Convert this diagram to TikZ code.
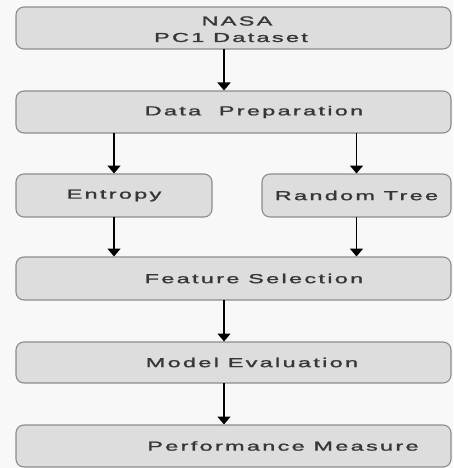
\documentclass[tikz,border=0pt]{standalone}
\usepackage{fontspec}
\usetikzlibrary{arrows.meta}
\newfontfamily\labfont[LetterSpace=10,FakeBold=1.2]{Liberation Sans}
\definecolor{bgc}{RGB}{248,248,248}
\definecolor{boxfill}{RGB}{221,221,221}
\definecolor{boxline}{RGB}{140,140,140}
\definecolor{txtc}{RGB}{55,55,55}
\tikzset{
  box/.style={draw=boxline, fill=boxfill, line width=1.1pt, rounded corners=8pt, inner sep=0pt, outer sep=0pt},
  lab/.style={inner sep=0pt, text=txtc, font=\fontsize{13}{15}\labfont},
  conn/.style={line width=1.6pt, -{Triangle[width=13pt,length=8pt]}, shorten >=0.5pt}
}
\newcommand{\sx}[1]{\scalebox{1.8}[1]{#1}}
\begin{document}
\begin{tikzpicture}[x=1pt,y=1pt]
\fill[bgc] (0,0) rectangle (453,-468);
\useasboundingbox (0,0) rectangle (453,-468);
\node[box, minimum width=435pt, minimum height=42pt] (n1) at (233.5,-28) {};
\node[box, minimum width=435pt, minimum height=42pt] (n2) at (233.5,-112) {};
\node[box, minimum width=196pt, minimum height=43pt] (ent) at (114,-195.5) {};
\node[box, minimum width=189pt, minimum height=43pt] (rt) at (356.5,-195.5) {};
\node[box, minimum width=435pt, minimum height=43pt] (fs) at (233.5,-278.5) {};
\node[box, minimum width=435pt, minimum height=41pt] (me) at (233.5,-362.5) {};
\node[box, minimum width=435pt, minimum height=42pt] (pm) at (233.5,-446) {};
\node[lab] (t1a) at ([xshift=3.5pt,yshift=7pt]n1.center) {\sx{NASA}};
\node[lab] (t1b) at ([xshift=-2.5pt,yshift=-9.5pt]n1.center) {\sx{PC1 Dataset}};
\node[lab] (t2) at ([xshift=20.5pt]n2.center) {\sx{Data\ \ Preparation}};
\node[lab] (t3) at (ent.center) {\sx{Entropy}};
\node[lab] (t4) at (rt.center) {\sx{Random Tree}};
\node[lab] (t5) at ([xshift=20.5pt]fs.center) {\sx{Feature Selection}};
\node[lab] (t6) at ([xshift=18.5pt]me.center) {\sx{Model Evaluation}};
\node[lab] (t7) at ([xshift=49.5pt]pm.center) {\sx{Performance Measure}};
\draw[conn] ([xshift=-9.5pt]n1.south) -- ([xshift=-9.5pt]n2.north);
\draw[conn] (ent.north |- n2.south) -- (ent.north);
\draw[conn] (rt.north |- n2.south) -- (rt.north);
\draw[conn] (ent.south) -- (ent.south |- fs.north);
\draw[conn] (rt.south) -- (rt.south |- fs.north);
\draw[conn] ([xshift=-9.5pt]fs.south) -- ([xshift=-9.5pt]me.north);
\draw[conn] ([xshift=-9.5pt]me.south) -- ([xshift=-9.5pt]pm.north);
\end{tikzpicture}
\end{document}
